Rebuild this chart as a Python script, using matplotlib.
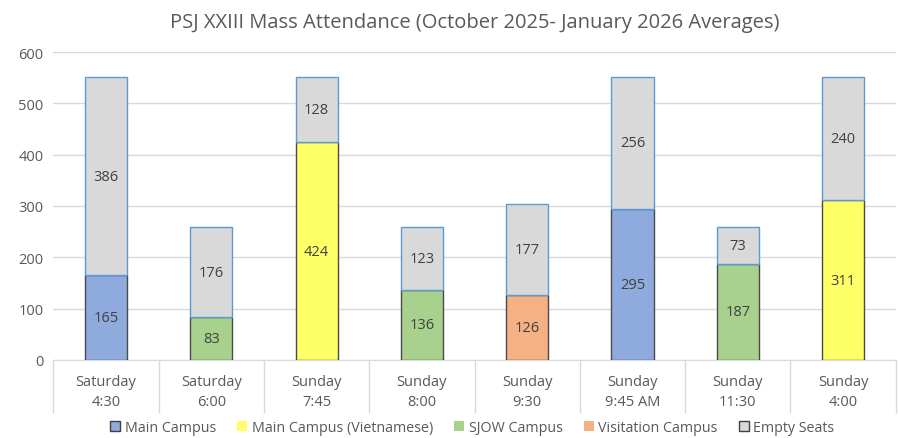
import matplotlib
matplotlib.use('Agg')
import matplotlib.pyplot as plt
import matplotlib.patches as mpatches
import numpy as np

plt.rcParams['font.family'] = ['Open Sans', 'DejaVu Sans']

categories = ['Saturday\n4:30', 'Saturday\n6:00', 'Sunday\n7:45', 'Sunday\n8:00',
              'Sunday\n9:30', 'Sunday\n9:45 AM', 'Sunday\n11:30', 'Sunday\n4:00']
campus = ['Main Campus', 'SJOW Campus', 'Main Campus (Vietnamese)', 'SJOW Campus',
          'Visitation Campus', 'Main Campus', 'SJOW Campus', 'Main Campus (Vietnamese)']
attendance = [165, 83, 424, 136, 126, 295, 187, 311]
empty_seats = [386, 176, 128, 123, 177, 256, 73, 240]

COLORS = {'Main Campus': '#8FAADC', 'Main Campus (Vietnamese)': '#FFFF66',
          'SJOW Campus': '#A9D18E', 'Visitation Campus': '#F4B183',
          'Empty Seats': '#D9D9D9'}
TXT = '#595959'

fig = plt.figure(figsize=(8.98, 4.39), dpi=100)
ax = fig.add_axes([0.0595, 0.178, 0.938, 0.701])

x = np.arange(len(categories))
ax.bar(x, attendance, width=0.4, color=[COLORS[c] for c in campus],
       edgecolor='#4A4A4A', linewidth=1.0, zorder=3)
ax.bar(x, empty_seats, bottom=attendance, width=0.4, color=COLORS['Empty Seats'],
       edgecolor='#5B9BD5', linewidth=1.0, zorder=3)

for i in range(len(x)):
    ax.text(x[i], attendance[i] / 2, str(attendance[i]), ha='center', va='center',
            fontsize=10.5, color='#404040', zorder=4)
    ax.text(x[i], attendance[i] + empty_seats[i] / 2, str(empty_seats[i]),
            ha='center', va='center', fontsize=10.5, color='#404040', zorder=4)

ax.set_ylim(0, 600)
ax.set_xlim(-0.5, len(x) - 0.5)
ax.set_yticks(range(0, 601, 100))
ax.grid(axis='y', color='#D9D9D9', linewidth=1.0, zorder=0)
ax.set_axisbelow(True)
for s in ['top', 'right', 'left']:
    ax.spines[s].set_visible(False)
ax.spines['bottom'].set_color('#D9D9D9')
ax.tick_params(axis='y', length=0, labelsize=10.5, labelcolor=TXT, pad=7)
ax.set_xticks(x)
ax.set_xticklabels(categories, fontsize=10.5, color=TXT, linespacing=1.45)
ax.tick_params(axis='x', which='major', length=0, pad=10)
ax.set_xticks(np.arange(-0.5, len(x), 1), minor=True)
ax.tick_params(axis='x', which='minor', length=38, color='#D9D9D9', width=1)

ax.set_title('PSJ XXIII Mass Attendance (October 2025- January 2026 Averages)',
             fontsize=14.5, color=TXT, pad=18)

handles = [
    mpatches.Patch(facecolor=COLORS['Main Campus'], edgecolor='#404040', label='Main Campus'),
    mpatches.Patch(facecolor=COLORS['Main Campus (Vietnamese)'], label='Main Campus (Vietnamese)'),
    mpatches.Patch(facecolor=COLORS['SJOW Campus'], label='SJOW Campus'),
    mpatches.Patch(facecolor=COLORS['Visitation Campus'], label='Visitation Campus'),
    mpatches.Patch(facecolor=COLORS['Empty Seats'], edgecolor='#404040', label='Empty Seats'),
]
fig.legend(handles=handles, loc='lower center', bbox_to_anchor=(0.526, -0.012), ncol=5,
           frameon=False, fontsize=10.3, handlelength=0.7, handleheight=0.7,
           handletextpad=0.3, columnspacing=1.5, labelcolor=TXT, borderpad=0.1)

plt.savefig('out.png', dpi=100)
plt.close()
